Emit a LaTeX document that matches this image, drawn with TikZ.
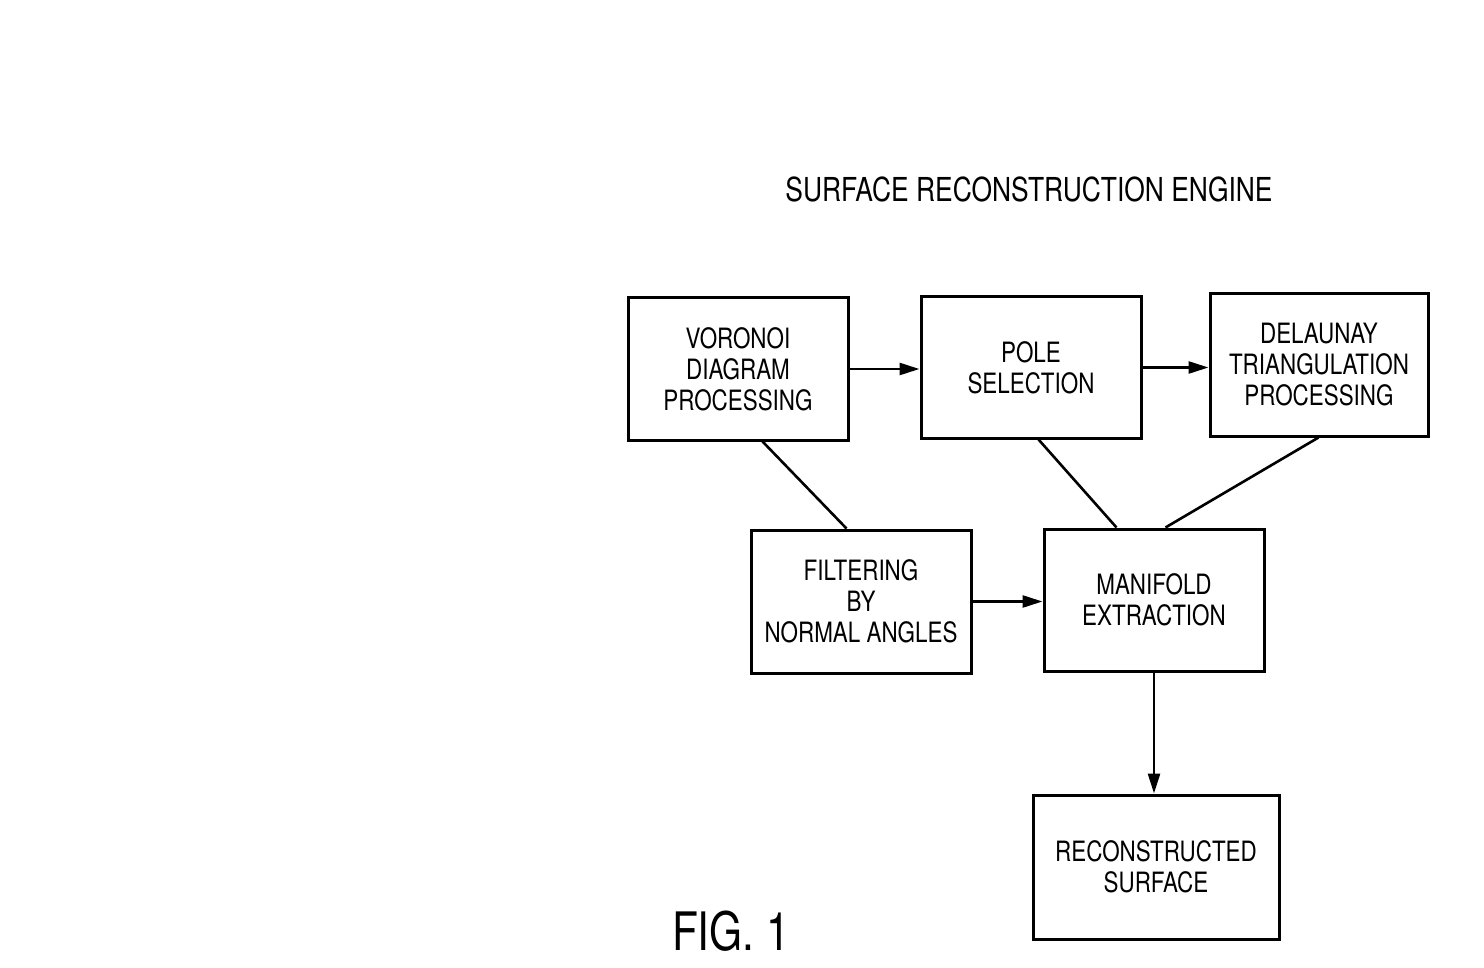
\documentclass[tikz,border=0pt]{standalone}
\usepackage{fontspec}
\setmainfont{TeX Gyre Heros}[FakeStretch=0.8]
\usetikzlibrary{arrows.meta,calc,shadows}
\begin{document}
\begin{tikzpicture}[x=0.5pt,y=-0.5pt,
  blockbox/.style={draw=black,line width=1.5pt,fill=white,align=center,
    inner sep=0pt,font=\fontsize{14pt}{15.5pt}\selectfont,
    drop shadow={shadow xshift=0.8pt,shadow yshift=-0.8pt,fill=black,opacity=1}},
  link/.style={line width=1.3pt},
  flow/.style={line width=1.3pt,-{Triangle[length=10pt,width=6pt]}}]
\useasboundingbox (0,0) rectangle (1484,968);
\node[anchor=base,font=\fontsize{16.5pt}{18pt}\selectfont] (title) at (1029,202) {SURFACE RECONSTRUCTION ENGINE};
\node[anchor=base,font=\fontsize{26.5pt}{28pt}\selectfont] (fig) at (731,950) {FIG.\ 1};
\node[blockbox,minimum width=110pt,minimum height=71pt] (V) at (738,369) {VORONOI\\DIAGRAM\\PROCESSING};
\node[blockbox,minimum width=110pt,minimum height=70.5pt] (P) at (1031,367.5) {POLE\\SELECTION};
\node[blockbox,minimum width=109pt,minimum height=71pt] (D) at (1319,365) {DELAUNAY\\TRIANGULATION\\PROCESSING};
\node[blockbox,minimum width=110pt,minimum height=71.5pt] (F) at (861,601.5) {FILTERING\\BY\\NORMAL ANGLES};
\node[blockbox,minimum width=110pt,minimum height=71pt] (M) at (1154,600) {MANIFOLD\\EXTRACTION};
\node[blockbox,minimum width=123pt,minimum height=72pt] (R) at (1156,867) {RECONSTRUCTED\\SURFACE};
\draw[flow] (V.east) -- (V.east -| P.west);
\draw[flow] (P.east) -- (P.east -| D.west);
\draw[flow] (F.east) -- (F.east -| M.west);
\draw[flow] (M.south) -- (M.south |- R.north);
\draw[link] ($(V.south west)+(136,0)$) -- ($(F.north west)+(97,0)$);
\draw[link] ($(P.south west)+(119,0)$) -- ($(M.north west)+(74,0)$);
\draw[link] ($(D.south west)+(110,0)$) -- ($(M.north west)+(123,0)$);
\end{tikzpicture}
\end{document}
